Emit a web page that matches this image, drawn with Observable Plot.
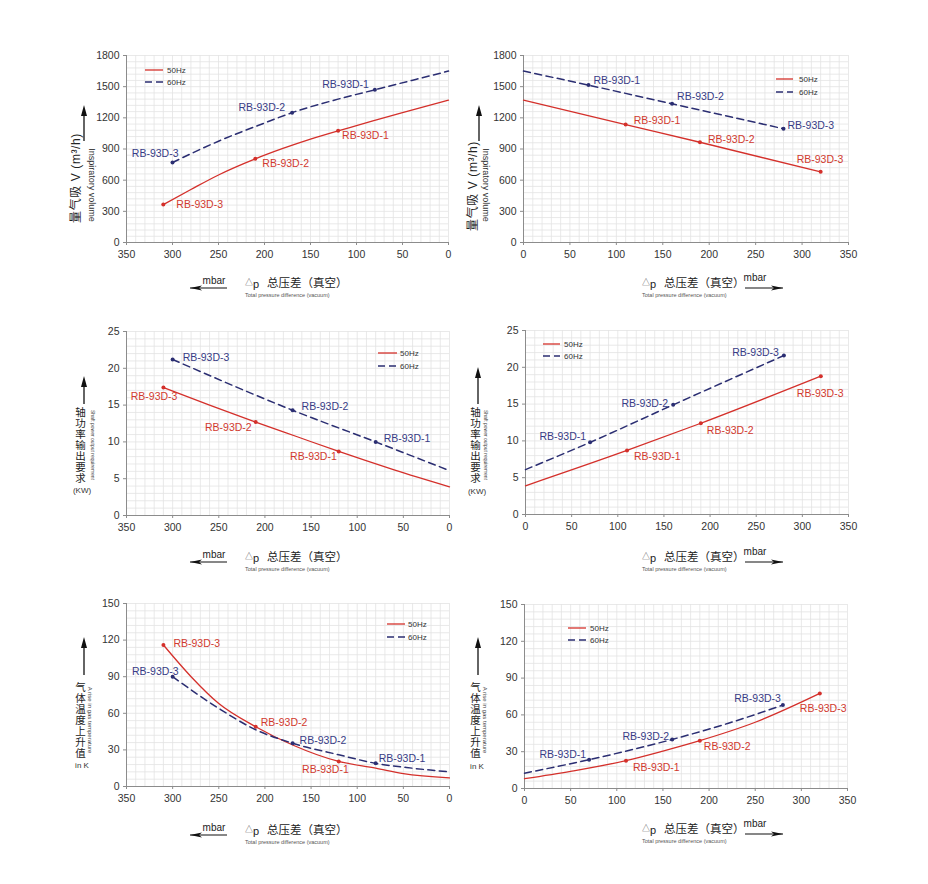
<!DOCTYPE html>
<html><head><meta charset="utf-8">
<script src="https://cdn.jsdelivr.net/npm/d3@7"></script>
<script src="https://cdn.jsdelivr.net/npm/@observablehq/plot@0.6"></script>
<style>
body{margin:0;background:#fff;}
#root{position:relative;width:928px;height:884px;font-family:"Liberation Sans",Arial,"Noto Sans CJK SC",sans-serif;overflow:hidden;background:#fff;}
.abs{position:absolute;white-space:nowrap;line-height:1;}
.vert{position:absolute;writing-mode:vertical-rl;text-orientation:upright;line-height:1;white-space:nowrap;}
#root svg.plot{position:absolute;}
</style></head><body><div id="root"></div>
<script>
// ---------- data ----------
const pressureTicks = [0, 50, 100, 150, 200, 250, 300, 350];
const volumeTicks = [0, 300, 600, 900, 1200, 1500, 1800];
const powerTicks = [0, 5, 10, 15, 20, 25];
const tempTicks = [0, 30, 60, 90, 120, 150];
const modelNames = ["RB-93D-1", "RB-93D-2", "RB-93D-3"];
const legendNames = ["50Hz", "60Hz"];

// Panel 1: inspiratory volume (reversed pressure axis)
const vol50RevCurve = [[310,365],[280,510],[250,650],[210,805],[180,905],[150,995],[120,1075],[100,1125],[50,1250],[0,1370]];
const vol50RevPts = [[120,1075],[210,805],[310,365]];
const vol60RevCurve = [[300,770],[250,975],[200,1150],[170,1250],[120,1380],[80,1470],[40,1560],[0,1650]];
const vol60RevPts = [[80,1470],[170,1250],[300,770]];
// Panel 2: inspiratory volume
const vol50Curve = [[0,1370],[110,1135],[190,965],[320,680]];
const vol50Pts = [[110,1135],[190,965],[320,680]];
const vol60Curve = [[0,1650],[70,1515],[160,1335],[280,1095]];
const vol60Pts = [[70,1515],[160,1335],[280,1095]];
// Panel 3: shaft power (reversed)
const pow50RevCurve = [[310,17.4],[260,15.0],[210,12.7],[165,10.7],[120,8.7],[60,6.2],[0,3.9]];
const pow50RevPts = [[120,8.7],[210,12.7],[310,17.4]];
const pow60RevCurve = [[300,21.2],[170,14.3],[80,10.0],[0,6.1]];
const pow60RevPts = [[80,10.0],[170,14.3],[300,21.2]];
// Panel 4: shaft power
const pow50Curve = [[0,3.9],[110,8.7],[190,12.4],[320,18.8]];
const pow50Pts = [[110,8.7],[190,12.4],[320,18.8]];
const pow60Curve = [[0,6.1],[70,9.8],[160,14.9],[280,21.6]];
const pow60Pts = [[70,9.8],[160,14.9],[280,21.6]];
// Panel 5: gas temperature rise (reversed)
const temp50RevCurve = [[310,116],[280,90],[250,68],[210,49],[170,34],[120,20.5],[80,15],[50,10.5],[0,7]];
const temp50RevPts = [[120,20.5],[210,49],[310,116]];
const temp60RevCurve = [[300,90],[250,64],[210,46.5],[170,35.5],[120,26],[80,19],[40,15],[0,12]];
const temp60RevPts = [[80,19],[170,35.5],[300,90]];
// Panel 6: gas temperature rise
const temp50Curve = [[0,8],[50,14],[110,22.7],[150,30.5],[190,39],[250,54],[320,77.5]];
const temp50Pts = [[110,22.7],[190,39],[320,77.5]];
const temp60Curve = [[0,12.5],[70,23.5],[160,40],[220,53],[280,68]];
const temp60Pts = [[70,23.5],[160,40],[280,68]];

// ---------- styles / layout ----------
const RED = "#d4302b", BLUE = "#2b2e72", REDT = "#d13a2f", BLUET = "#383c86";
const GRID = "#e3e3e3", AXIS = "#8c8c8c";

const panels = [
  {fx:126, fy:55, fw:322, fh:187, rev:true, yMax:1800, yTicks:volumeTicks, yStep:60,
   s50:[vol50RevCurve, vol50RevPts], s60:[vol60RevCurve, vol60RevPts],
   l50:[["start",4,5],["start",7,5],["start",13,0]],
   l60:[["end",-6,-5],["end",-7,-5],["end",6,-9]]},
  {fx:523, fy:55, fw:325, fh:187, rev:false, yMax:1800, yTicks:volumeTicks, yStep:60,
   s50:[vol50Curve, vol50Pts], s60:[vol60Curve, vol60Pts],
   l50:[["start",8,-4],["start",8,-3],["start",-24,-12]],
   l60:[["start",5,-4],["start",5,-7],["start",4,-3]]},
  {fx:126, fy:331, fw:323, fh:184, rev:true, yMax:25, yTicks:powerTicks, yStep:1,
   s50:[pow50RevCurve, pow50RevPts], s60:[pow60RevCurve, pow60RevPts],
   l50:[["end",-2,5],["end",-4,6],["end",14,9]],
   l60:[["start",8,-3],["start",9,-4],["start",10,-2]]},
  {fx:525, fy:330, fw:323, fh:184, rev:false, yMax:25, yTicks:powerTicks, yStep:1,
   s50:[pow50Curve, pow50Pts], s60:[pow60Curve, pow60Pts],
   l50:[["start",7,6],["start",6,7],["start",-24,17]],
   l60:[["end",-4,-6],["end",-5,-1],["end",-5,-3]]},
  {fx:126, fy:603, fw:323, fh:183, rev:true, yMax:150, yTicks:tempTicks, yStep:6,
   s50:[temp50RevCurve, temp50RevPts], s60:[temp60RevCurve, temp60RevPts],
   l50:[["end",10,8],["start",5,-4],["start",10,-1]],
   l60:[["start",3,-5],["start",7,-3],["end",6,-5]]},
  {fx:524, fy:604, fw:323, fh:184, rev:false, yMax:150, yTicks:tempTicks, yStep:6,
   s50:[temp50Curve, temp50Pts], s60:[temp60Curve, temp60Pts],
   l50:[["start",7,7],["start",4,6],["start",-20,15]],
   l60:[["end",-3,-5],["end",-3,-3],["end",-2,-6]]}
];

const root = document.getElementById("root");
const ML = 40, MR = 12, MT = 8, MB = 22;
const fmt = d3.format("d");

function seriesMarks(curve, pts, color, tcolor, dashed, labels) {
  const m = [
    Plot.line(curve, {x: d => d[0], y: d => d[1], stroke: color, strokeWidth: dashed ? 1.5 : 1.3,
      strokeDasharray: dashed ? "7,4.5" : null, curve: "monotone-x"}),
    Plot.dot(pts, {x: d => d[0], y: d => d[1], r: 2, fill: color, stroke: null})
  ];
  labels.forEach(([anchor, dx, dy], i) => {
    m.push(Plot.text([pts[i]], {x: d => d[0], y: d => d[1], text: () => modelNames[i],
      textAnchor: anchor, dx, dy, fill: tcolor, fontSize: 10.5, ariaLabel: "model label"}));
  });
  return m;
}

panels.forEach(p => {
  const minorX = d3.range(0, 351, 10);
  const minorY = d3.range(0, p.yMax + 0.001, p.yStep);
  const svg = Plot.plot({
    width: p.fw + ML + MR, height: p.fh + MT + MB,
    marginLeft: ML, marginRight: MR, marginTop: MT, marginBottom: MB,
    x: {domain: p.rev ? [350, 0] : [0, 350]},
    y: {domain: [0, p.yMax]},
    style: {fontFamily: "Liberation Sans, Arial, sans-serif", fontSize: "10px", background: "transparent", overflow: "visible"},
    marks: [
      Plot.ruleX(minorX, {stroke: GRID, strokeWidth: 0.8}),
      Plot.ruleY(minorY, {stroke: GRID, strokeWidth: 0.8}),
      Plot.ruleX([p.rev ? 350 : 0], {stroke: AXIS, strokeWidth: 1}),
      Plot.ruleY([0], {stroke: AXIS, strokeWidth: 1}),
      Plot.axisX({ticks: pressureTicks, tickFormat: fmt, tickSize: 3, tickPadding: 5, stroke: AXIS, fill: "#333", fontSize: 10.5, label: null}),
      Plot.axisY({ticks: p.yTicks, tickFormat: fmt, tickSize: 3, tickPadding: 4, stroke: AXIS, fill: "#333", fontSize: 10.5, label: null}),
      ...seriesMarks(p.s50[0], p.s50[1], RED, REDT, false, p.l50),
      ...seriesMarks(p.s60[0], p.s60[1], BLUE, BLUET, true, p.l60)
    ]
  });
  svg.classList.add("plot");
  svg.style.left = (p.fx - ML) + "px";
  svg.style.top = (p.fy - MT) + "px";
  svg.querySelectorAll('g[aria-label="model label"] text').forEach(t => t.style.letterSpacing = "0.6px");
  root.appendChild(svg);
});

// ---------- decorations (HTML / overlay svg) ----------
const NS = "http://www.w3.org/2000/svg";
const ov = document.createElementNS(NS, "svg");
ov.setAttribute("width", 928); ov.setAttribute("height", 884);
ov.style.position = "absolute"; ov.style.left = "0"; ov.style.top = "0";
root.appendChild(ov);
function el(tag, attrs) { const e = document.createElementNS(NS, tag); for (const k in attrs) e.setAttribute(k, attrs[k]); ov.appendChild(e); return e; }
function arrowUp(x, y1, y2) {
  el("line", {x1: x, x2: x, y1: y1 + 6, y2: y2, stroke: "#111", "stroke-width": 1.3});
  el("polygon", {points: `${x},${y1} ${x-3},${y1+11} ${x+3},${y1+11}`, fill: "#111"});
}
function arrowH(x1, x2, y, dir) { // dir -1 left, +1 right
  el("line", {x1, x2, y1: y, y2: y, stroke: "#111", "stroke-width": 1.2});
  const hx = dir < 0 ? x1 : x2, bx = hx - dir * 12;
  el("polygon", {points: `${hx},${y} ${bx},${y-2.6} ${bx+dir*3},${y} ${bx},${y+2.6}`, fill: "#111"});
}
function legend(x1, x2, tx, y1, y2) {
  el("line", {x1, x2, y1: y1, y2: y1, stroke: RED, "stroke-width": 1.3});
  el("line", {x1, x2, y1: y2, y2: y2, stroke: BLUE, "stroke-width": 1.5, "stroke-dasharray": "7,4"});
  [y1, y2].forEach((y, i) => {
    const t = el("text", {x: tx, y: y, "dominant-baseline": "central", "font-size": 8, fill: "#333", "font-family": "Liberation Sans, Arial, sans-serif"});
    t.textContent = legendNames[i];
  });
}
function div(html, x, y, css, tf) {
  const d = document.createElement("div");
  d.className = "abs"; d.innerHTML = html;
  d.style.left = x + "px"; d.style.top = y + "px";
  d.style.transform = "translate(-50%,-50%)" + (tf || "");
  Object.assign(d.style, css || {});
  root.appendChild(d);
  return d;
}

// legends
legend(145, 163, 167, 70, 82);
legend(776, 793, 799, 79, 92);
legend(378, 397, 400, 353, 366);
legend(543, 560, 564, 344, 356);
legend(387, 405, 408, 624, 637);
legend(568, 586, 590, 628, 640);

// x-axis titles
function xTitle(left, y, rev) {
  div("△", left + 4, y, {fontSize: "8px", color: "#555"});
  div("p", left + 11, y + 0.5, {fontSize: "11px", color: "#222"});
  const zh = document.createElement("div");
  zh.className = "abs"; zh.textContent = "总压差（真空）";
  Object.assign(zh.style, {left: (left + 22) + "px", top: (y - 6.5) + "px", fontSize: "11.5px", color: "#222", fontFamily: "Noto Sans CJK SC, sans-serif"});
  root.appendChild(zh);
  const en = document.createElement("div");
  en.className = "abs"; en.textContent = "Total pressure difference (vacuum)";
  Object.assign(en.style, {left: left + "px", top: (y + 9.5) + "px", fontSize: "5.5px", color: "#555"});
  root.appendChild(en);
  if (rev) {
    div("mbar", 214, y - 2, {fontSize: "10px", color: "#222"});
    arrowH(190, 227, y + 5, -1);
  } else {
    div("mbar", 755, y - 5, {fontSize: "10px", color: "#222"});
    arrowH(745, 783, y + 5, 1);
  }
}
xTitle(245, 283, true);
xTitle(642, 283, false);
xTitle(245, 557, true);
xTitle(642, 557, false);
xTitle(245, 830, true);
xTitle(642, 829, false);

// y-axis titles
function yVolume(cx, cy, ax, sx) {
  arrowUp(ax, 105, 141);
  div("量气吸 V (m³/h)", cx, cy, {fontSize: "12px", color: "#222", letterSpacing: "0.6px", fontFamily: "Liberation Sans, Noto Sans CJK SC, sans-serif"}, " rotate(-90deg)");
  div("Inspiratory volume", sx, 185, {fontSize: "9px", color: "#333"}, " rotate(90deg)");
}
yVolume(76, 178, 84, 91);
yVolume(473, 186, 479, 485);

function yStacked(cx, top, ax, a1, a2, zh, en, enSize, unit, sx, unitY) {
  arrowUp(ax, a1, a2);
  const d = document.createElement("div");
  d.className = "vert"; d.textContent = zh;
  Object.assign(d.style, {left: (cx - 5.5) + "px", top: top + "px", fontSize: "10.5px", letterSpacing: "0.4px", color: "#222", fontFamily: "Noto Sans CJK SC, sans-serif"});
  root.appendChild(d);
  div(en, sx, top + 38, {fontSize: enSize, color: "#444"}, " rotate(90deg)");
  div(unit, cx + 2, unitY, {fontSize: "8px", color: "#333"});
}
yStacked(80, 407, 84, 376, 404, "轴功率输出要求", "Shaft power output requirement", "5px", "(KW)", 92, 491);
yStacked(475, 407, 478, 367, 404, "轴功率输出要求", "Shaft power output requirement", "5px", "(KW)", 485, 492);
yStacked(80, 682, 84, 637, 675, "气体温度上升值", "A rise in gas temperature", "6px", "in K", 90, 766);
yStacked(475, 682, 478, 637, 675, "气体温度上升值", "A rise in gas temperature", "6px", "in K", 485, 767);
</script></body></html>
